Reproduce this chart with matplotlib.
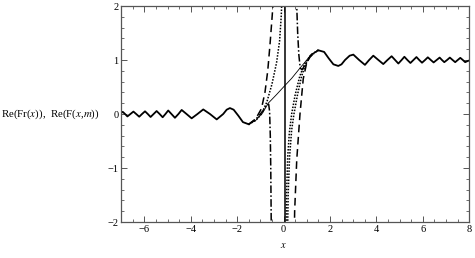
import matplotlib
matplotlib.use('Agg')
import matplotlib.pyplot as plt
from matplotlib.ticker import MultipleLocator

plt.rcParams['font.family'] = ['Liberation Serif', 'DejaVu Serif']
plt.rcParams['mathtext.fontset'] = 'stix'

# outer oscillating part (all approximations coincide with Fr(x) here)
x_left = [-7.0, -6.93, -6.83, -6.73, -6.6, -6.47, -6.35, -6.22, -6.1, -5.97, -5.85,
          -5.73, -5.6, -5.47, -5.34, -5.21, -5.09, -4.97, -4.83, -4.68, -4.53,
          -4.39, -4.18, -3.96, -3.71, -3.46, -3.17, -2.88, -2.6, -2.45, -2.31,
          -2.15, -1.95, -1.75, -1.5]
y_left = [0.02, 0.04, 0.0, -0.045, 0.0, 0.045, 0.0, -0.05, 0.0, 0.05, 0.0,
          -0.055, 0.0, 0.055, 0.0, -0.06, 0.0, 0.065, 0.0, -0.07, 0.0,
          0.075, 0.0, -0.08, 0.0, 0.085, 0.0, -0.1, 0.0, 0.08, 0.11,
          0.08, -0.03, -0.15, -0.19]
x_right = [1.5, 1.75, 1.95, 2.15, 2.36, 2.5, 2.65, 2.85, 3.01, 3.26, 3.51, 3.69,
           3.87, 4.09, 4.3, 4.48, 4.66, 4.81, 4.95, 5.09, 5.21, 5.34, 5.47, 5.6,
           5.73, 5.85, 5.97, 6.1, 6.22, 6.35, 6.47, 6.6, 6.73, 6.83, 6.93, 7.05,
           7.17, 7.29, 7.4, 7.51, 7.62, 7.73, 7.83, 7.93, 8.0]
y_right = [1.18, 1.15, 1.03, 0.92, 0.89, 0.92, 1.0, 1.08, 1.1, 1.0, 0.91, 1.0,
           1.08, 1.0, 0.925, 1.0, 1.07, 1.0, 0.935, 1.0, 1.06, 1.0, 0.945, 1.0,
           1.055, 1.0, 0.95, 1.0, 1.05, 1.0, 0.955, 1.0, 1.045, 1.0, 0.96, 1.0,
           1.045, 1.0, 0.96, 1.0, 1.04, 1.0, 0.96, 0.98, 0.99]

# exact Fr(x) in the middle
x_exact = [-1.5, -1.2, -0.9, -0.66, -0.3, 0.0, 0.35, 0.71, 1.0, 1.25, 1.5]
y_exact = [-0.19, -0.12, 0.02, 0.2, 0.36, 0.5, 0.66, 0.85, 1.0, 1.12, 1.18]

# F(x,m) branches near the origin
x_dash_l = [-1.5, -1.2, -0.95, -0.8, -0.68, -0.58, -0.5, -0.44, -0.4]
y_dash_l = [-0.19, -0.09, 0.1, 0.4, 0.8, 1.3, 1.75, 2.1, 2.6]
x_dash_r = [0.45, 0.48, 0.57, 0.71, 0.85, 1.0, 1.15, 1.3, 1.5]
y_dash_r = [-2.6, -1.8, -0.85, 0.0, 0.65, 0.95, 1.08, 1.14, 1.18]

x_dd_l = [-1.5, -1.2, -0.9, -0.72, -0.64, -0.6, -0.57, -0.55, -0.53, -0.52]
y_dd_l = [-0.19, -0.1, 0.05, 0.17, 0.18, 0.05, -0.4, -1.0, -2.0, -2.6]
x_dd_r = [0.55, 0.57, 0.61, 0.66, 0.72, 0.8, 0.95, 1.15, 1.35, 1.5]
y_dd_r = [2.6, 2.0, 1.5, 1.1, 0.85, 0.82, 0.92, 1.06, 1.14, 1.18]

x_dot_l = [-1.5, -1.2, -0.95, -0.72, -0.5, -0.3, -0.17, -0.1, -0.06, -0.04]
y_dot_l = [-0.19, -0.12, 0.0, 0.22, 0.55, 0.95, 1.35, 1.8, 2.2, 2.8]
x_dot_r1 = [0.1, 0.13, 0.18, 0.25, 0.35, 0.5, 0.7, 0.9, 1.1, 1.3, 1.5]
y_dot_r1 = [-2.6, -1.5, -0.8, -0.35, 0.0, 0.35, 0.7, 0.92, 1.05, 1.13, 1.18]
x_dot_r2 = [0.16, 0.2, 0.26, 0.35, 0.45, 0.6, 0.78, 0.95, 1.15, 1.5]
y_dot_r2 = [-2.6, -1.5, -0.8, -0.3, 0.0, 0.35, 0.7, 0.92, 1.07, 1.18]

x_pole = [0.05, 0.05]
y_pole = [-2.6, 2.6]

fig = plt.figure(figsize=(4.75, 2.58), dpi=100)
ax = fig.add_axes([0.255, 0.1395, 0.7326, 0.8372])

ax.plot(x_left, y_left, color='k', lw=1.3)
ax.plot(x_right, y_right, color='k', lw=1.3)
ax.plot(x_exact, y_exact, color='k', lw=0.6)
ax.plot(x_dash_l, y_dash_l, color='k', lw=1.1, ls=(0, (5, 3)))
ax.plot(x_dash_r, y_dash_r, color='k', lw=1.1, ls=(0, (5, 3)))
ax.plot(x_dd_l, y_dd_l, color='k', lw=1.1, ls=(0, (5, 1.5, 1, 1.5)))
ax.plot(x_dd_r, y_dd_r, color='k', lw=1.1, ls=(0, (5, 1.5, 1, 1.5)))
ax.plot(x_dot_l, y_dot_l, color='k', lw=1.1, ls=(0, (1, 1)))
ax.plot(x_dot_r1, y_dot_r1, color='k', lw=1.1, ls=(0, (1, 1)))
ax.plot(x_dot_r2, y_dot_r2, color='k', lw=1.1, ls=(0, (1, 1)))
ax.plot(x_pole, y_pole, color='k', lw=1.1)

ax.set_xlim(-7, 8)
ax.set_ylim(-2, 2)
ax.xaxis.set_major_locator(MultipleLocator(2))
ax.xaxis.set_minor_locator(MultipleLocator(0.5))
ax.yaxis.set_major_locator(MultipleLocator(1))
ax.yaxis.set_minor_locator(MultipleLocator(0.2))
ax.tick_params(which='both', direction='in', top=True, right=True,
               color='#555555', labelsize=7.5, pad=2)
ax.tick_params(which='major', length=4, width=0.7)
ax.tick_params(which='minor', length=2, width=0.6)
for s in ax.spines.values():
    s.set_color('#555555')
    s.set_linewidth(0.9)

ax.set_xticklabels([f'{int(t)}'.replace('-', '\u2212') for t in ax.get_xticks()])
ax.set_yticklabels([f'{int(t)}'.replace('-', '\u2212') for t in ax.get_yticks()])

fig.text(0.003, 0.558, r'Re(Fr($x$)),  Re(F($x$,$m$))', fontsize=7.8,
         ha='left', va='center')
fig.text(0.596, 0.05, r'$x$', fontsize=7.5, ha='center', va='center')

fig.savefig('out.png', dpi=100)
